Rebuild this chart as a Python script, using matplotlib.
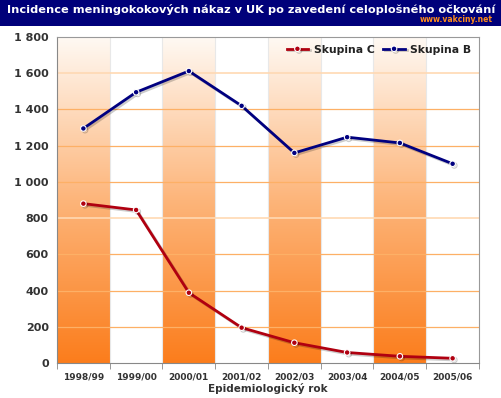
import numpy as np
import matplotlib.pyplot as plt
import matplotlib.patheffects as pe
from matplotlib.colors import LinearSegmentedColormap
from matplotlib.ticker import FuncFormatter

years = ['1998/99', '1999/00', '2000/01', '2001/02', '2002/03', '2003/04', '2004/05', '2005/06']
skupina_c = [880, 845, 388, 195, 112, 58, 37, 26]
skupina_b = [1295, 1495, 1612, 1420, 1160, 1247, 1215, 1100]

fig = plt.figure(figsize=(5.02, 3.98), dpi=100)
fig.patch.set_facecolor('white')

# title bar
fig.patches.append(plt.Rectangle((0, 1 - 26 / 398), 1, 26 / 398, transform=fig.transFigure,
                                 facecolor='#00007a', edgecolor='none', zorder=0))
fig.text(0.5, 1 - 9.5 / 398, 'Incidence meningokokových nákaz v UK po zavedení celoplošného očkování',
         ha='center', va='center', color='white', fontsize=8.2, fontweight='bold')
fig.text(0.982, 1 - 19.5 / 398, 'www.vakciny.net', ha='right', va='center', color='#ff8c1a',
         fontsize=5.5, fontweight='bold')

ax = fig.add_axes([57 / 502, 1 - 363 / 398, 422 / 502, 326 / 398])
x = np.arange(len(years))
ax.set_xlim(-0.5, len(years) - 0.5)
ax.set_ylim(0, 1800)

# orange gradient bands
cmap = LinearSegmentedColormap.from_list('band', ['#fb7d1c', '#fdb57a', '#fff9f3'])
grad = np.linspace(0, 1, 256).reshape(-1, 1)
for i in range(0, len(years), 2):
    ax.imshow(grad, cmap=cmap, aspect='auto', origin='lower',
              extent=(i - 0.5, i + 0.5, 0, 1800), zorder=0)

for y in range(200, 1800, 200):
    c = '#ffd9b3' if y in (800, 1600) else '#fdb066'
    ax.axhline(y, color=c, lw=1.2 if y in (800, 1600) else 0.9, zorder=1)
for b in np.arange(0.5, len(years) - 0.5, 1):
    ax.axvline(b, color='#e8e8e8', lw=0.8, zorder=0.5)

shadow = [pe.SimpleLineShadow(offset=(1.2, -1.2), alpha=0.2), pe.Normal()]
ax.plot(x, skupina_c, color='#b00010', lw=2, marker='o', ms=4, mfc='#b00010', mec='white',
        mew=0.8, label='Skupina C', zorder=3, path_effects=shadow)
ax.plot(x, skupina_b, color='#000080', lw=2, marker='o', ms=4, mfc='#000080', mec='white',
        mew=0.8, label='Skupina B', zorder=3, path_effects=shadow)

ax.set_yticks(range(0, 1801, 200))
ax.yaxis.set_major_formatter(FuncFormatter(lambda v, p: f'{int(v):,}'.replace(',', ' ')))
ax.set_xticks(x)
ax.set_xticklabels(years)
ax.set_xticks(np.arange(-0.5, len(years), 1), minor=True)
ax.tick_params(axis='x', which='major', length=0, labelsize=6.5, pad=7, labelcolor='#333333')
ax.tick_params(axis='x', which='minor', length=4, color='#888888', direction='out')
ax.tick_params(axis='y', length=0, labelsize=8, pad=6, labelcolor='#333333')
for lab in ax.get_xticklabels() + ax.get_yticklabels():
    lab.set_fontweight('bold')
ax.set_xlabel('Epidemiologický rok', fontsize=7.5, fontweight='bold', color='#333333', labelpad=1)

for s in ax.spines.values():
    s.set_color('#999999')
ax.spines['left'].set_color('#888888')
ax.spines['bottom'].set_color('#888888')

leg = ax.legend(loc='upper right', ncol=2, frameon=False, fontsize=7.8, handlelength=2.0,
                columnspacing=0.8, handletextpad=0.5, borderaxespad=0.3)
for t in leg.get_texts():
    t.set_fontweight('bold')
    t.set_color('#222222')

fig.savefig('out.png', dpi=100)
